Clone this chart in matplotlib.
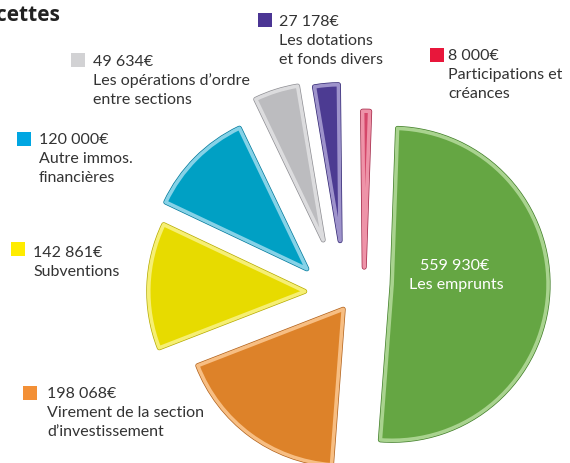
import numpy as np
import matplotlib
matplotlib.use('Agg')
import matplotlib.pyplot as plt
import matplotlib.patheffects as pe

plt.rcParams['font.family'] = ['Lato', 'DejaVu Sans']

# data (clockwise from the top)
values = [559930, 198068, 142861, 120000, 49634, 27178, 8000]
montants = ["559 930€", "198 068€", "142 861€", "120 000€", "49 634€", "27 178€", "8 000€"]
libelles = [
    ["Les emprunts"],
    ["Virement de la section", "d\u2019investissement"],
    ["Subventions"],
    ["Autre immos.", "financières"],
    ["Les opérations d\u2019ordre", "entre sections"],
    ["Les dotations", "et fonds divers"],
    ["Participations et", "créances"],
]

# styles
main_colors = ["#65A643", "#DD8229", "#E7DB00", "#00A0C4", "#BCBCBF", "#4C3B92", "#D5476A"]
rim_colors = ["#A9D38F", "#F7BE83", "#F6EF74", "#86D2E7", "#DCDCDE", "#9E93CB", "#EE93A8"]
dark_colors = ["#3F7D27", "#B0601A", "#B5AA00", "#00789A", "#8D8D92", "#2E2370", "#A02545"]
legend_colors = [None, "#F39036", "#FFEC00", "#00A6E2", "#D2D2D4", "#4B3594", "#E8173B"]
explode = [42, 23.5, 45, 42, 51, 45, 18]   # px, radial
nudge = [3, 9, 8, 19, 12, 6, -14]          # px, tangential
# legend anchor: (square x, square top, text x, first baseline) in image px
legend_pos = [None, (23, 386, 47, 398), (11, 242, 33, 257), (17, 132, 39, 144),
              (71, 53, 93, 66), (258, 13, 279, 26), (430, 48, 448, 60)]

W, H = 570, 463
fig = plt.figure(figsize=(W / 100, H / 100), dpi=100)
ax = fig.add_axes([0, 0, 1, 1])

center = (350, 178)
wedges, _ = ax.pie(values, startangle=88, counterclock=False, radius=156,
                   center=center, explode=explode, colors=main_colors)

for i, w in enumerate(wedges):
    mid = np.deg2rad((w.theta1 + w.theta2) / 2)
    cx, cy = w.center
    w.set_center((cx - np.sin(mid) * nudge[i], cy + np.cos(mid) * nudge[i]))
    w.set_edgecolor(rim_colors[i])
    w.set_linewidth(2.6)
    w.set_joinstyle('round')
    w.set_path_effects([pe.Stroke(linewidth=3.6, foreground=dark_colors[i]), pe.Normal()])

ax.set_xlim(0, W)
ax.set_ylim(0, H)
ax.set_aspect('equal')
ax.axis('off')

fs = 11.5
txt = "#333333"
line_h = 19

# label inside the big slice
ax.text(455, H - 270, montants[0], color="white", fontsize=fs, ha='center', va='baseline')
ax.text(456, H - 289, libelles[0][0], color="white", fontsize=fs, ha='center', va='baseline')

for i in range(1, len(values)):
    sx, sy, tx, by = legend_pos[i]
    ax.add_patch(plt.Rectangle((sx, H - sy - 13.5), 14, 13.5, color=legend_colors[i], lw=0))
    lines = [montants[i]] + libelles[i]
    for k, line in enumerate(lines):
        ax.text(tx, H - by - k * line_h, line, color=txt, fontsize=fs, ha='left', va='baseline')

# title, cut by the left border like the original
ax.text(60, H - 21, "Recettes", color="#222222", fontsize=15, fontweight='bold',
        family='Open Sans', ha='right', va='baseline')

fig.savefig("out.png", dpi=100)
